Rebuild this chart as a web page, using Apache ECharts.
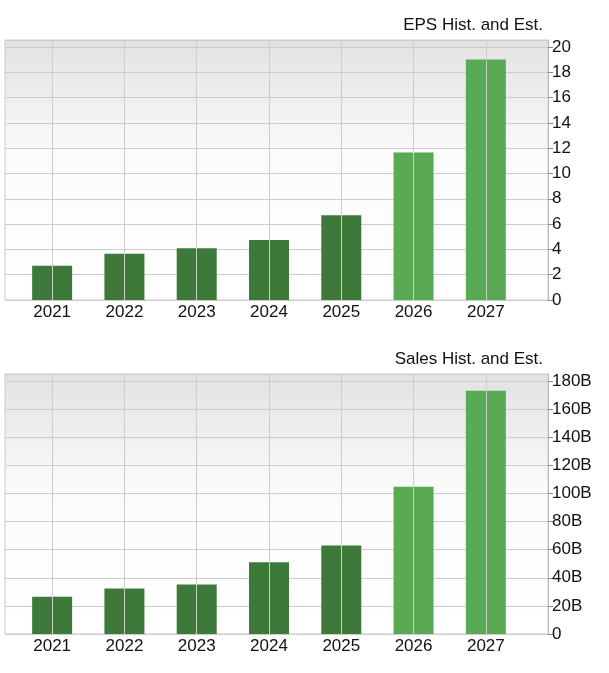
<!DOCTYPE html>
<html><head><meta charset="utf-8">
<script src="https://cdn.jsdelivr.net/npm/echarts@6/dist/echarts.min.js"></script>
<style>html,body{margin:0;padding:0;background:#fff}#c{width:609px;height:673px}</style>
</head><body><div id="c"></div>
<script>
const years = ['2021','2022','2023','2024','2025','2026','2027'];
const eps = [2.7, 3.65, 4.1, 4.75, 6.7, 11.65, 19.0];
const sales = [26.5, 32.3, 35.2, 51, 63, 104.7, 173];
const estimated = [false,false,false,false,false,true,true];
const dark = '#3d7a3a', light = '#5aaa55';
const chart = echarts.init(document.getElementById('c'));
const bg = {type:'linear',x:0,y:0,x2:0,y2:1,colorStops:[{offset:0,color:'#e2e2e2'},{offset:0.45,color:'#fbfbfb'},{offset:1,color:'#ffffff'}]};
const font = 'Liberation Sans';
const tops = [40, 374], H = 260;
function xOuter(i){return {type:'category',gridIndex:i,data:years,show:false};}
function xInner(i){return {type:'category',gridIndex:i,data:years,boundaryGap:true,
  axisLine:{show:false},axisTick:{show:false},
  axisLabel:{color:'#111',fontSize:17,fontFamily:font,margin:4},splitLine:{show:false}};}
function yOuter(i,max,intv,fmt){return {type:'value',gridIndex:i,position:'right',min:0,max:max,interval:intv,
  axisLine:{show:true,lineStyle:{color:'#bbb'}},axisTick:{show:true,length:5,lineStyle:{color:'#888'}},
  axisLabel:{color:'#111',fontSize:17,fontFamily:font,margin:4,formatter:fmt},
  splitLine:{lineStyle:{color:'#ccc'}}};}
function yInner(i,max){return {type:'value',gridIndex:i,min:0,max:max,show:false};}
function bars(vals){return vals.map((v,i)=>({value:v,itemStyle:{color:estimated[i]?light:dark}}));}
function vlines(xi){return {type:'line',xAxisIndex:xi,yAxisIndex:xi,data:[],z:1,
  markLine:{silent:true,symbol:'none',label:{show:false},lineStyle:{color:'#ccc',type:'solid',width:1},data:years.map(y=>({xAxis:y}))}};}
const maxE = 20.55, maxS = 185;
chart.setOption({
  animation:false,
  title:[{text:'EPS Hist. and Est.',right:61,top:12,textStyle:{fontSize:17,fontWeight:'normal',color:'#111',fontFamily:font}},
         {text:'Sales Hist. and Est.',right:61,top:346,textStyle:{fontSize:17,fontWeight:'normal',color:'#111',fontFamily:font}}],
  grid:[{left:5,right:61,top:tops[0],height:H,show:true,backgroundColor:bg,borderColor:'#ccc',borderWidth:1},
        {left:5,right:61,top:tops[1],height:H,show:true,backgroundColor:bg,borderColor:'#ccc',borderWidth:1},
        {left:16,right:87,top:tops[0],height:H},
        {left:16,right:87,top:tops[1],height:H}],
  xAxis:[xOuter(0),xOuter(1),xInner(2),xInner(3)],
  yAxis:[yOuter(0,maxE,2),yOuter(1,maxS,20,v=>v===0?'0':v+'B'),yInner(2,maxE),yInner(3,maxS)],
  series:[
    vlines(2), vlines(3),
    {type:'bar',xAxisIndex:2,yAxisIndex:2,data:bars(eps),barWidth:40,z:3},
    {type:'bar',xAxisIndex:3,yAxisIndex:3,data:bars(sales),barWidth:40,z:3}
  ]
});
</script></body></html>
